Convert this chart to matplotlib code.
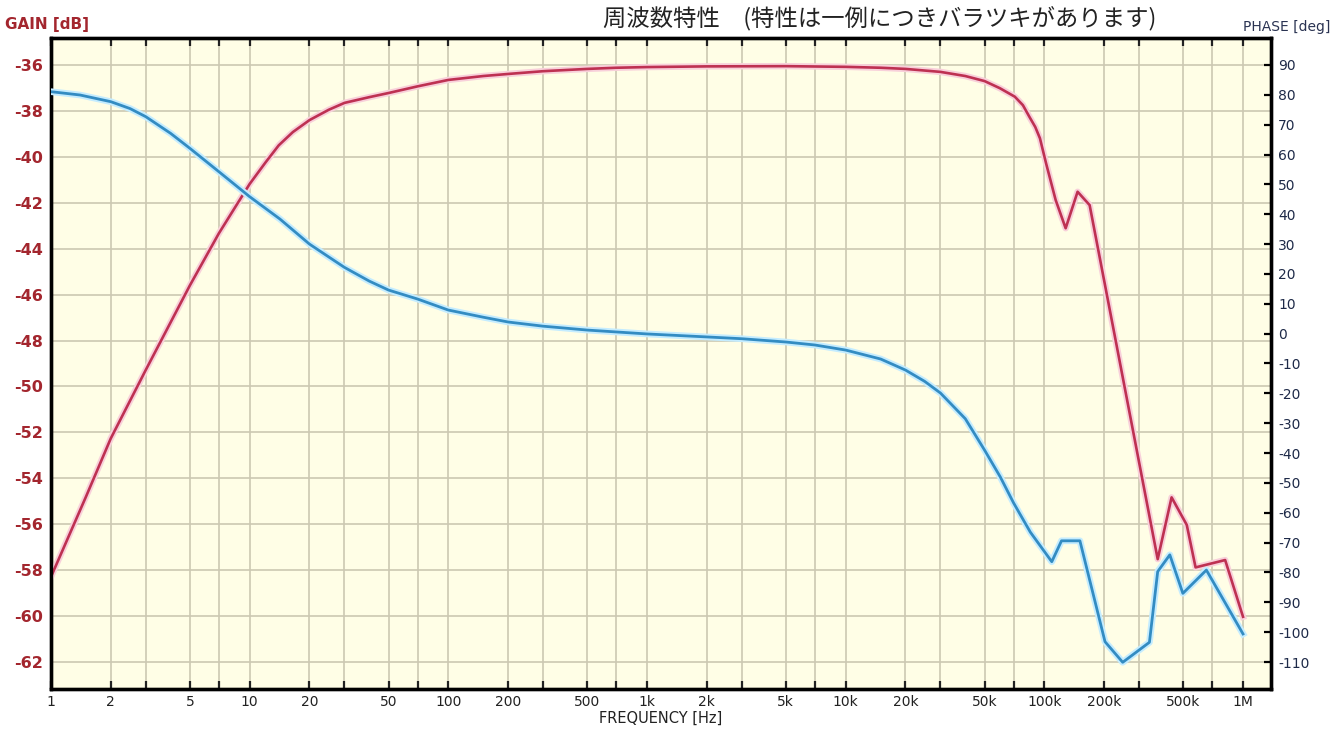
import matplotlib
matplotlib.use("Agg")
import matplotlib.pyplot as plt
import matplotlib.patheffects as pe
from matplotlib.ticker import FixedLocator, FixedFormatter

# ---------------- data ----------------
gain_freq = [1, 1.5, 2, 3, 5, 7, 10, 12, 14, 16.5, 20, 25, 30, 40, 50, 70, 100,
             150, 200, 300, 500, 700, 1e3, 2e3, 5e3, 1e4, 1.5e4, 2e4, 3e4, 4e4,
             5e4, 5.97e4, 7.1e4, 7.8e4, 8.4e4, 9e4, 9.5e4, 1.02e5, 1.14e5,
             1.28e5, 1.47e5, 1.69e5, 3.72e5, 4.37e5, 5.21e5, 5.77e5, 8.13e5, 1e6]
gain_db = [-58.29, -54.8, -52.26, -49.28, -45.6, -43.33, -41.18, -40.25, -39.5,
           -38.92, -38.4, -37.95, -37.65, -37.4, -37.22, -36.93, -36.65, -36.48,
           -36.39, -36.27, -36.17, -36.12, -36.09, -36.06, -36.05, -36.08, -36.12,
           -36.17, -36.3, -36.48, -36.7, -37.01, -37.38, -37.75, -38.25, -38.7,
           -39.19, -40.28, -41.88, -43.11, -41.52, -42.1, -57.52, -54.83, -56.03,
           -57.88, -57.56, -60.03]

phase_freq = [1, 1.4, 2, 2.5, 3, 4, 5, 7, 10, 14.2, 20, 25, 30, 40, 50, 70, 100,
              150, 200, 300, 500, 1e3, 2e3, 3e3, 5e3, 7e3, 1e4, 1.5e4, 2e4, 2.5e4,
              3e4, 4e4, 5e4, 6e4, 7e4, 8.5e4, 1.09e5, 1.22e5, 1.51e5, 2.02e5,
              2.48e5, 3.38e5, 3.72e5, 4.28e5, 4.98e5, 6.54e5, 1e6]
phase_deg = [81.06, 79.95, 77.71, 75.4, 72.68, 67.1, 62.09, 54.25, 45.88, 38.4,
             30.0, 25.7, 22.2, 17.6, 14.6, 11.6, 7.9, 5.5, 3.9, 2.5, 1.2, -0.1,
             -1.1, -1.7, -2.8, -3.8, -5.5, -8.5, -12.2, -16.0, -19.9, -28.5,
             -39.0, -48.0, -56.7, -66.5, -76.4, -69.4, -69.4, -103.2, -110.1,
             -103.4, -79.7, -74.1, -87.0, -79.2, -100.6]

grid_freqs = [m * 10 ** e for e in range(0, 6) for m in (1, 2, 3, 5, 7)] + [1e6]
label_map = {1: "1", 2: "2", 5: "5", 10: "10", 20: "20", 50: "50", 100: "100",
             200: "200", 500: "500", 1e3: "1k", 2e3: "2k", 5e3: "5k", 1e4: "10k",
             2e4: "20k", 5e4: "50k", 1e5: "100k", 2e5: "200k", 5e5: "500k",
             1e6: "1M"}
gain_ticks = list(range(-36, -63, -2))
phase_ticks = list(range(90, -111, -10))

title = "周波数特性　(特性は一例につきバラツキがあります)"

# ---------------- figure ----------------
plt.rcParams['font.family'] = ['DejaVu Sans']
fig = plt.figure(figsize=(13.36, 7.32), dpi=100)
fig.patch.set_facecolor("white")
ax = fig.add_axes([51 / 1336, 1 - 689 / 732, (1271 - 51) / 1336, (689 - 38) / 732])
ax.set_facecolor("#FFFEE6")
ax2 = ax.twinx()
ax2.patch.set_visible(False)

ax.set_xscale("log")
ax.set_xlim(1, 10 ** (1220 / 198.67))
ax.set_ylim(-63.176, -34.824)
ax2.set_ylim(-119.045, 99.045)

# grid
for f in grid_freqs:
    ax.axvline(f, color="#CCC8B2", lw=1.2, zorder=0.5)
for g in gain_ticks:
    ax.axhline(g, color="#CCC8B2", lw=1.2, zorder=0.5)

# x ticks
ax.xaxis.set_major_locator(FixedLocator(grid_freqs))
ax.xaxis.set_major_formatter(FixedFormatter([label_map.get(f, "") for f in grid_freqs]))
ax.xaxis.set_minor_locator(FixedLocator([]))
ax.tick_params(axis="x", which="major", direction="in", top=True, bottom=True,
               length=6, width=1.6, labelsize=10, pad=4, colors="#222222")

# left y
ax.set_yticks(gain_ticks)
ax.set_yticklabels([f"-{abs(v)}" for v in gain_ticks])
ax.tick_params(axis="y", length=0, pad=6, labelsize=11.5, labelcolor="#A3262E")
for t in ax.get_yticklabels():
    t.set_fontweight("bold")

# right y
ax2.set_yticks(phase_ticks)
ax2.set_yticklabels([str(v) if v >= 0 else f"-{abs(v)}" for v in phase_ticks])
ax2.tick_params(axis="y", direction="in", length=5, width=1.6, pad=5,
                labelsize=10, labelcolor="#1E2A48")

for a in (ax, ax2):
    for s in a.spines.values():
        s.set_linewidth(2.4)
        s.set_color("black")

# curves
ax.plot(gain_freq, gain_db, color="#BE3152", lw=1.9, zorder=3,
        solid_joinstyle="round",
        path_effects=[pe.Stroke(linewidth=4.6, foreground="#F8D0DA"), pe.Normal()])
ax2.plot(phase_freq, phase_deg, color="#338CC2", lw=2.0, zorder=3,
         solid_joinstyle="round",
         path_effects=[pe.Stroke(linewidth=4.8, foreground="#C4ECFF"), pe.Normal()])

# texts
fig.text(5 / 1336, 1 - 25 / 732, "GAIN [dB]", fontsize=11, fontweight="bold",
         color="#A3262E", va="center", ha="left")
fig.text(1330 / 1336, 1 - 27 / 732, "PHASE [deg]", fontsize=10, color="#2A3352",
         va="center", ha="right")
fig.text(880 / 1336, 1 - 18 / 732, title, fontsize=16.8, color="#222222",
         va="center", ha="center", family=["Noto Sans CJK JP", "DejaVu Sans"])
fig.text(661 / 1336, 1 - 718 / 732, "FREQUENCY [Hz]", fontsize=10.5,
         color="#222222", va="center", ha="center")

fig.savefig("out.png", dpi=100, facecolor="white")
